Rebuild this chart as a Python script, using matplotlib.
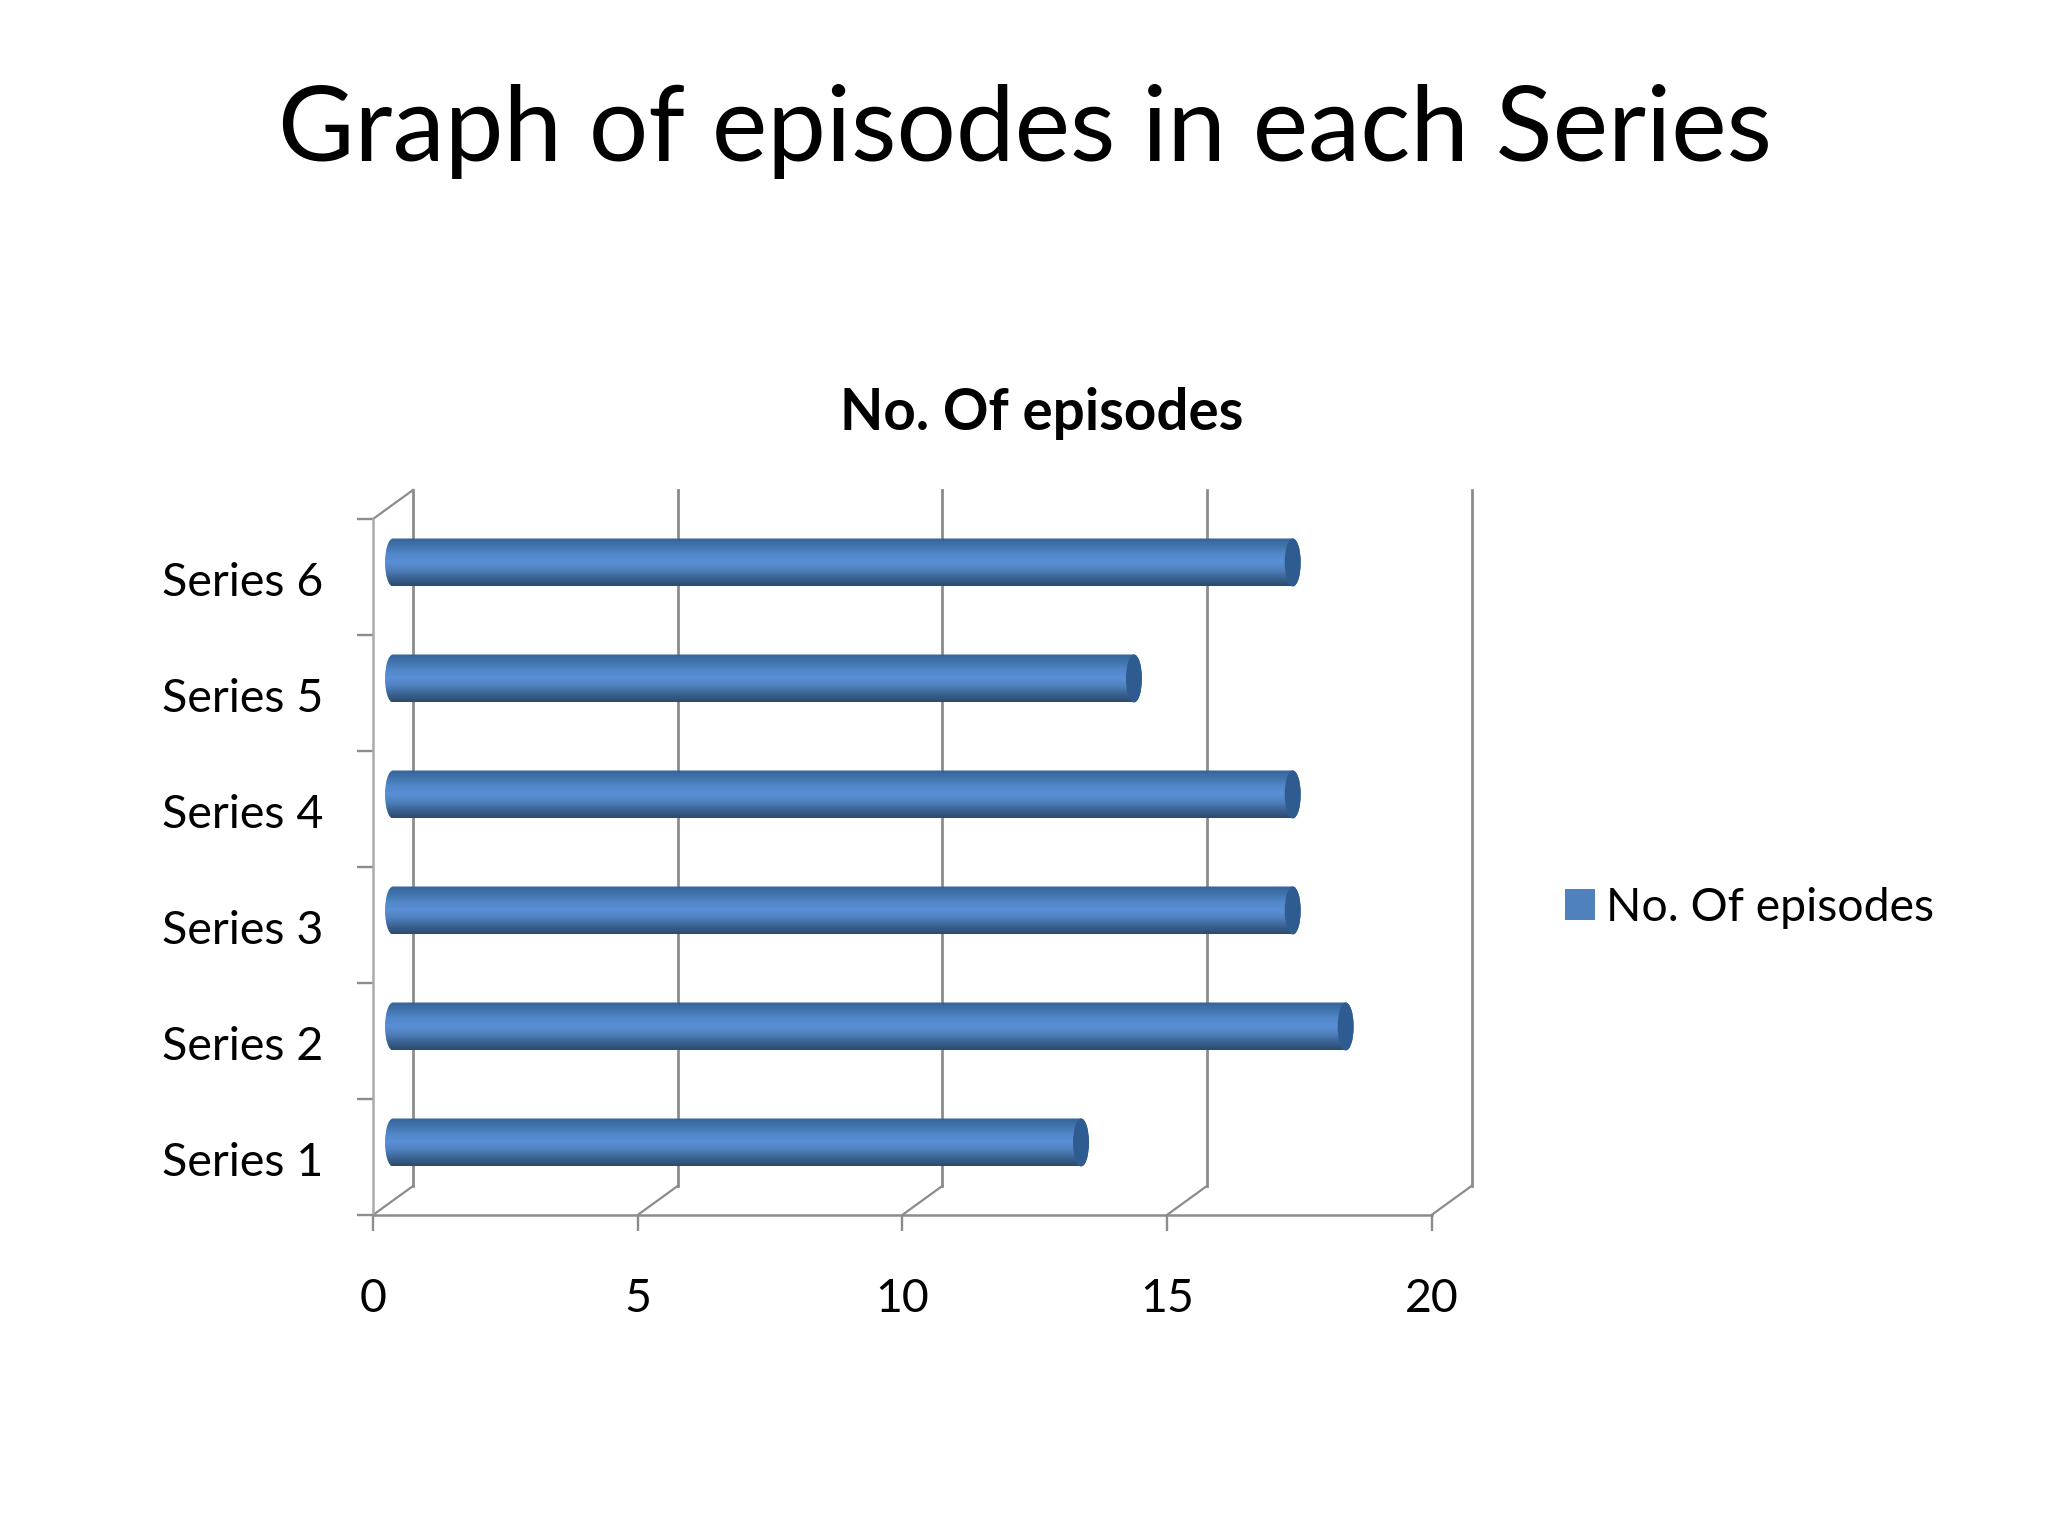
import numpy as np
import matplotlib
matplotlib.use("Agg")
import matplotlib.pyplot as plt
from matplotlib.colors import LinearSegmentedColormap
from matplotlib.patches import Patch, PathPatch, Ellipse
from matplotlib.path import Path
from matplotlib.transforms import ScaledTranslation

categories = ["Series 1", "Series 2", "Series 3", "Series 4", "Series 5", "Series 6"]
episodes = [13, 18, 17, 17, 14, 17]
x_ticks = [0, 5, 10, 15, 20]
title = "Graph of episodes in each Series"
chart_title = "No. Of episodes"

W, H = 2048, 1536
plt.rcParams["font.family"] = ["Lato", "DejaVu Sans"]
fig = plt.figure(figsize=(W / 100, H / 100), dpi=100, facecolor="white")
L, R, T, B = 373, 1431.5, 519, 1215
ax = fig.add_axes([L / W, 1 - B / H, (R - L) / W, (B - T) / H])
AXC = "#8c8c8c"

ux = (R - L) / 20
uy = (B - T) / 6
dx, dy = 40 / ux, 29 / uy      # depth of the 3D box
hw, hh = 8 / ux, 24 / uy       # cap half width, bar half height

cmap = LinearSegmentedColormap.from_list(
    "cyl", ["#2c4a6e", "#3a6292", "#4f81bd", "#5b8fd6", "#5288c9", "#4274ae", "#34649a"])
grad = np.linspace(0, 1, 256).reshape(-1, 1)

for k in x_ticks:
    ax.plot([k, k + dx], [0, dy], color=AXC, lw=1.6, clip_on=False, zorder=1)
    ax.plot([k + dx, k + dx], [dy, 6 + dy], color=AXC, lw=2.0, clip_on=False, zorder=1)
ax.plot([0, dx], [6, 6 + dy], color=AXC, lw=1.6, clip_on=False, zorder=1)

K = 0.5523
for i, v in enumerate(episodes):
    yc = i + 0.5 + dy / 2
    x0 = dx / 2
    x1 = v + dx / 2
    top, bot = yc + hh, yc - hh
    verts = [(x0, bot),
             (x1, bot),
             (x1 + K * hw, bot), (x1 + hw, yc - K * hh), (x1 + hw, yc),
             (x1 + hw, yc + K * hh), (x1 + K * hw, top), (x1, top),
             (x0, top),
             (x0 - K * hw, top), (x0 - hw, yc + K * hh), (x0 - hw, yc),
             (x0 - hw, yc - K * hh), (x0 - K * hw, bot), (x0, bot),
             (x0, bot)]
    codes = [Path.MOVETO, Path.LINETO,
             Path.CURVE4, Path.CURVE4, Path.CURVE4,
             Path.CURVE4, Path.CURVE4, Path.CURVE4,
             Path.LINETO,
             Path.CURVE4, Path.CURVE4, Path.CURVE4,
             Path.CURVE4, Path.CURVE4, Path.CURVE4,
             Path.CLOSEPOLY]
    shape = PathPatch(Path(verts, codes), transform=ax.transData, fc="none", ec="none")
    ax.add_patch(shape)
    im = ax.imshow(grad, cmap=cmap, aspect="auto", origin="lower",
                   extent=[x0 - hw, x1 + hw, bot, top], zorder=3, interpolation="bilinear")
    im.set_clip_path(shape)
    ax.add_patch(Ellipse((x1, yc), 2 * hw, 2 * hh, fc="#2f5c90", ec="none", zorder=4, clip_on=False))

ax.set_xlim(0, 20)
ax.set_ylim(0, 6)
ax.set_facecolor("none")
for s in ("top", "right"):
    ax.spines[s].set_visible(False)
for s in ("left", "bottom"):
    ax.spines[s].set_color(AXC)
    ax.spines[s].set_linewidth(1.8)
ax.spines["left"].set_color("#ababab")

ax.set_xticks(x_ticks)
ax.set_xticklabels([str(k) for k in x_ticks])
ax.set_yticks(range(7))
ax.set_yticklabels([])
ax.set_yticks(np.arange(6) + 0.5, labels=categories, minor=True)
ax.tick_params(axis="both", which="major", length=11.5, width=1.7, color=AXC)
ax.tick_params(axis="x", which="major", labelsize=33.5, pad=34, labelcolor="black")
ax.tick_params(axis="y", which="minor", length=0, labelsize=33.5, pad=36, labelcolor="black")
shift = ScaledTranslation(0, -1.5 / 72, fig.dpi_scale_trans)
for lab in ax.get_yticklabels(minor=True):
    lab.set_transform(lab.get_transform() + shift)

fig.text(1025 / W, 1 - 161 / H, title, ha="center", va="baseline", fontsize=75.5, color="black")
fig.text(1042 / W, 1 - 413 / H, chart_title, ha="center", va="center", fontsize=40.7,
         fontweight="bold", color="black")

handle = Patch(fc="#4f81bd", ec="none", label=chart_title)
fig.legend(handles=[handle], loc="center left", bbox_to_anchor=(1565 / W, 1 - 908 / H),
           frameon=False, fontsize=33.4, handlelength=0.65, handleheight=0.65,
           handletextpad=0.24, borderaxespad=0, borderpad=0)

fig.savefig("out.png", dpi=100, facecolor="white")
